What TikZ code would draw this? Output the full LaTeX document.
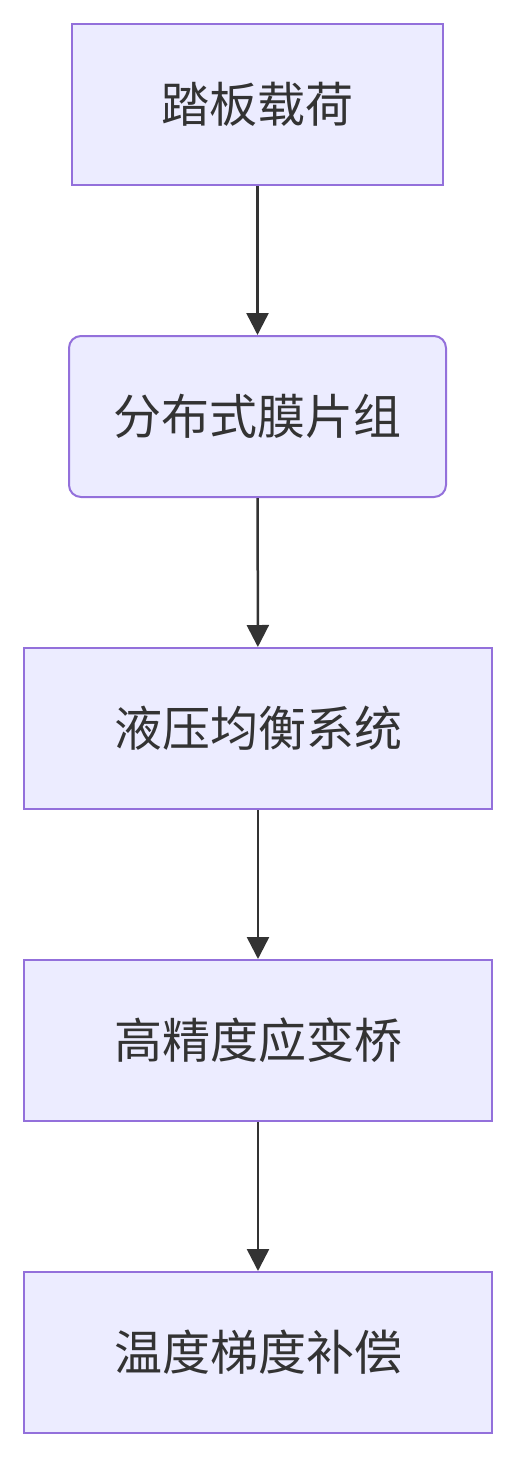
\documentclass[tikz,border=0pt]{standalone}
\usepackage{fontspec}
\newfontfamily\cjk{Noto Sans CJK SC}
\usetikzlibrary{arrows.meta}
\definecolor{boxfill}{HTML}{ECECFF}
\definecolor{boxline}{HTML}{9370DB}
\definecolor{txt}{HTML}{333333}
\tikzset{
  flowbox/.style={draw=boxline, fill=boxfill, line width=2pt, text=txt,
    font=\cjk\fontsize{48}{56}\selectfont, inner sep=0pt},
  link/.style={draw=txt, line width=2.5pt, -{Triangle[length=22pt,width=22pt]}}
}
\begin{document}
\begin{tikzpicture}[x=1pt,y=-1pt]
\useasboundingbox (0,0) rectangle (516,1458);
\node[flowbox, minimum width=371pt, minimum height=161pt] (a) at (257.5,104.5) {踏板载荷};
\node[flowbox, rounded corners=12pt, minimum width=377pt, minimum height=161pt] (b) at (257.5,416.5) {分布式膜片组};
\node[flowbox, minimum width=468pt, minimum height=161pt] (c) at (258,728.5) {液压均衡系统};
\node[flowbox, minimum width=468pt, minimum height=161pt] (d) at (258,1040.5) {高精度应变桥};
\node[flowbox, minimum width=468pt, minimum height=161pt] (e) at (258,1352.5) {温度梯度补偿};
\draw[link] (a) -- (b);
\draw[link] (b) -- (c);
\draw[link] (c) -- (d);
\draw[link] (d) -- (e);
\end{tikzpicture}
\end{document}
